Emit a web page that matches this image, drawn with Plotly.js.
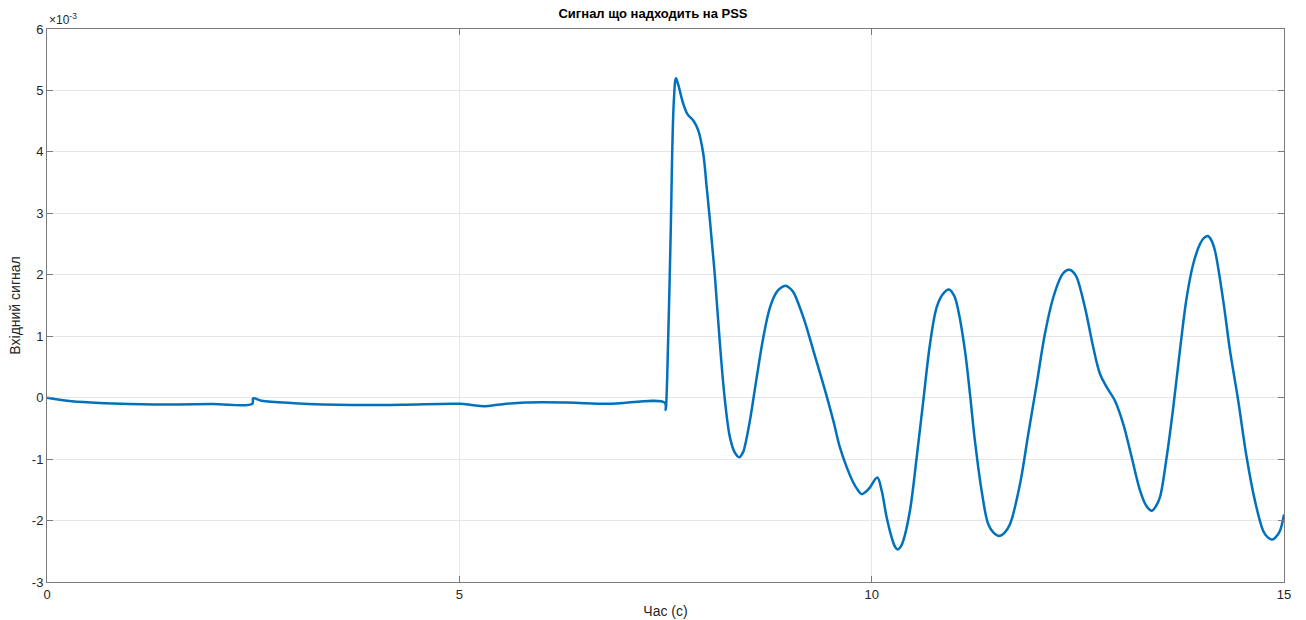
<!DOCTYPE html>
<html>
<head>
<meta charset="utf-8">
<script src="https://cdn.plot.ly/plotly-3.0.1.min.js"></script>
<style>html,body{margin:0;padding:0;background:#fff;}#chart{width:1306px;height:620px;}</style>
</head>
<body>
<div id="chart"></div>
<script>
// Time, s
const time = [0, 0.3, 0.7, 1.3, 2.0, 2.49, 2.5, 2.6, 3.0, 3.7, 4.3, 5.0, 5.15, 5.3, 5.5, 5.8, 6.3, 6.8, 7.49, 7.502,
  7.52, 7.56, 7.60, 7.627, 7.651, 7.716, 7.764, 7.837, 7.897, 7.958, 7.999, 8.039, 8.100, 8.160, 8.221, 8.282, 8.343,
  8.394, 8.44, 8.464, 8.524, 8.606, 8.686, 8.767, 8.848, 8.90, 8.957, 9.00, 9.049, 9.171, 9.292, 9.413, 9.534, 9.615, 9.697, 9.777,
  9.83, 9.879, 9.93, 9.980, 10.068, 10.121, 10.182, 10.255, 10.285, 10.315, 10.35, 10.383, 10.464, 10.546, 10.626, 10.707, 10.788, 10.86, 10.937, 11.0,
  11.050, 11.131, 11.192, 11.252, 11.333, 11.414, 11.48, 11.547, 11.61, 11.677, 11.798, 11.899, 12.001, 12.101, 12.202, 12.304, 12.35,
  12.396, 12.44, 12.486, 12.586, 12.687, 12.768, 12.850, 12.950, 13.051, 13.153, 13.254, 13.33, 13.395, 13.45, 13.496, 13.577, 13.657,
  13.738, 13.820, 13.900, 13.981, 14.03, 14.078, 14.12, 14.163, 14.263, 14.345, 14.445, 14.547, 14.648, 14.748, 14.80, 14.857, 14.90, 14.950, 15.0];
// Input signal, x10^-3
const signal = [0, -0.06, -0.09, -0.11, -0.105, -0.1, -0.01, -0.05, -0.09, -0.12, -0.115, -0.1, -0.12, -0.14, -0.11, -0.08, -0.08, -0.1, -0.08, -0.2,
  0.3, 2.5, 4.8, 5.2, 5.11, 4.78, 4.62, 4.51, 4.35, 3.97, 3.43, 2.88, 1.96, 0.87, -0.05, -0.65, -0.90,
  -0.97, -0.89, -0.78, -0.37, 0.33, 0.98, 1.47, 1.72, 1.79, 1.82, 1.79, 1.72, 1.31, 0.77, 0.22, -0.37, -0.81, -1.13, -1.38,
  -1.50, -1.57, -1.53, -1.46, -1.30, -1.51, -1.95, -2.33, -2.43, -2.47, -2.43, -2.33, -1.84, -0.97, -0.05, 0.87, 1.47, 1.68, 1.76, 1.66,
  1.42, 0.77, 0.06, -0.70, -1.51, -2.06, -2.2, -2.25, -2.2, -2.06, -1.41, -0.59, 0.22, 1.04, 1.63, 1.99, 2.06,
  2.08, 2.05, 1.96, 1.47, 0.82, 0.39, 0.17, -0.05, -0.43, -0.97, -1.51, -1.76, -1.84, -1.76, -1.62, -0.97, -0.16,
  0.77, 1.63, 2.18, 2.5, 2.6, 2.63, 2.56, 2.39, 1.58, 0.77, -0.05, -0.97, -1.68, -2.17, -2.27, -2.31, -2.27, -2.17, -1.9];

const xTicks = [0, 5, 10, 15];
const yTicks = [-3, -2, -1, 0, 1, 2, 3, 4, 5, 6];

const axisCommon = {
  showgrid: true, gridcolor: '#e6e6e6', gridwidth: 1,
  zeroline: false, showline: true, linecolor: '#7a7a7a', linewidth: 1,
  mirror: 'ticks', ticks: 'inside', ticklen: 6, tickcolor: '#7a7a7a',
  tickfont: {family: 'Liberation Sans, Arial, sans-serif', size: 13, color: '#262626'}
};

const trace = {
  x: time, y: signal, type: 'scatter', mode: 'lines',
  line: {color: '#0072BD', width: 2.5, shape: 'spline', smoothing: 1.0},
  hoverinfo: 'x+y'
};

const layout = {
  width: 1306, height: 620,
  margin: {l: 47, r: 22, t: 29, b: 38},
  paper_bgcolor: '#ffffff', plot_bgcolor: '#ffffff',
  showlegend: false,
  title: {text: '<b>Сигнал що надходить на PSS</b>', x: 0.5, xanchor: 'center', y: 0.985, yanchor: 'top',
    font: {family: 'Liberation Sans, Arial, sans-serif', size: 13, color: '#000'}},
  xaxis: Object.assign({}, axisCommon, {
    range: [0, 15], tickvals: xTicks, ticktext: xTicks.map(String),
    title: {text: 'Час (с)', standoff: 5, font: {family: 'Liberation Sans, Arial, sans-serif', size: 14, color: '#262626'}}
  }),
  yaxis: Object.assign({}, axisCommon, {
    range: [-3, 6], tickvals: yTicks, ticktext: yTicks.map(String),
    title: {text: 'Вхідний сигнал', standoff: 7, font: {family: 'Liberation Sans, Arial, sans-serif', size: 14, color: '#262626'}}
  }),
  annotations: [{
    text: '×10<sup>-3</sup>', xref: 'paper', yref: 'paper', x: 0, y: 1, xanchor: 'left', yanchor: 'bottom',
    showarrow: false, font: {family: 'Liberation Sans, Arial, sans-serif', size: 12, color: '#262626'}, yshift: 0
  }]
};

Plotly.newPlot('chart', [trace], layout, {displayModeBar: false, staticPlot: true});
</script>
</body>
</html>
